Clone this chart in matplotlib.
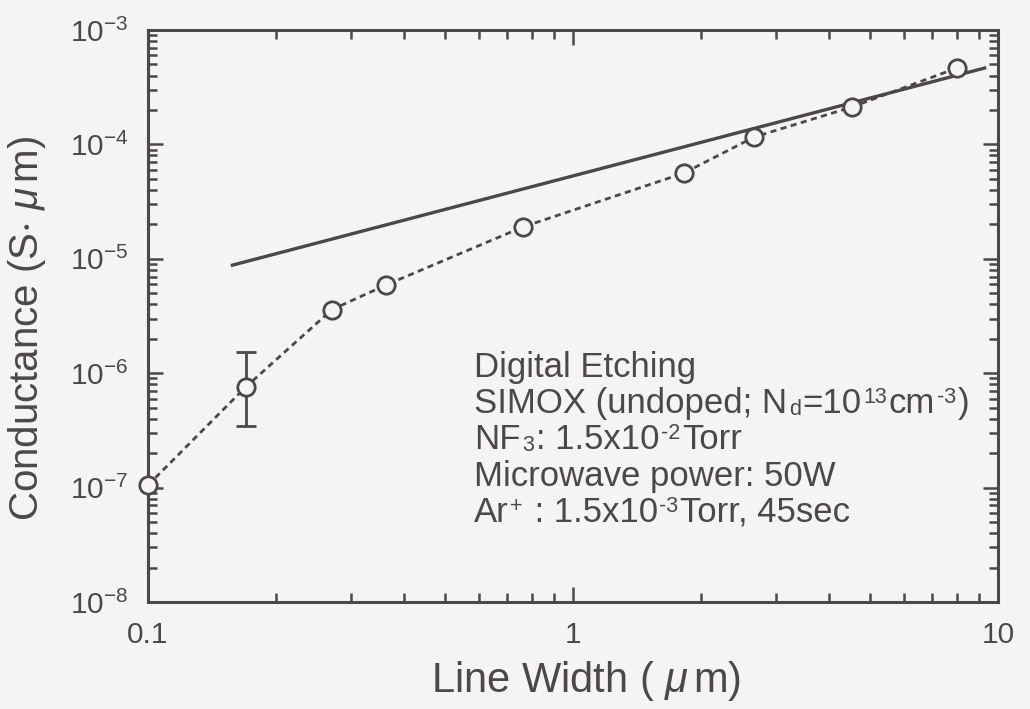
import matplotlib
matplotlib.use("Agg")
import matplotlib.pyplot as plt
from matplotlib.transforms import IdentityTransform

plt.rcParams['font.family'] = ['Liberation Sans', 'DejaVu Sans']
plt.rcParams['mathtext.fontset'] = 'custom'
plt.rcParams['mathtext.rm'] = 'Liberation Sans'
plt.rcParams['mathtext.it'] = 'Liberation Sans:italic'
plt.rcParams['mathtext.default'] = 'regular'

# dane
width = [0.1, 0.17, 0.271, 0.363, 0.763, 1.82, 2.67, 4.53, 8.0]
cond = [1.05e-7, 7.6e-7, 3.6e-6, 5.9e-6, 1.9e-5, 5.6e-5, 1.16e-4, 2.12e-4, 4.65e-4]
err_x = [0.17]
err_y = [7.6e-7]
err_lo = [3.46e-7]
err_hi = [1.53e-6]
fit_x = [0.158, 9.3]
fit_y = [8.8e-6, 4.65e-4]

ink = '#4d4749'
bg = '#f4f4f4'
W, H = 1030, 709

fig = plt.figure(figsize=(10.3, 7.09), dpi=100, facecolor=bg)
ax = fig.add_axes([148 / W, 1 - 602 / H, 850 / W, 572 / H])
ax.set_facecolor(bg)

ax.plot(fit_x, fit_y, '-', color=ink, lw=2.4, zorder=2)
ax.plot(width, cond, color=ink, lw=2.0, ls=(0, (2.2, 1.6)), zorder=2)
ax.errorbar(err_x, err_y,
            yerr=[[err_y[0] - err_lo[0]], [err_hi[0] - err_y[0]]],
            fmt='none', ecolor=ink, elinewidth=2.0, capsize=7, capthick=2.0, zorder=2)
ax.plot(width, cond, 'o', ms=12.5, mfc=bg, mec=ink, mew=2.0, ls='none', zorder=3, clip_on=False)

ax.set_xscale('log')
ax.set_yscale('log')
ax.set_xlim(0.1, 10)
ax.set_ylim(1e-8, 1e-3)

ax.set_xticks([0.1, 1, 10])
ax.set_xticklabels(['0.1', '1', '10'])
ax.set_yticks([1e-8, 1e-7, 1e-6, 1e-5, 1e-4, 1e-3])
ax.set_yticklabels([r'10$^{%d}$' % e for e in range(-8, -2)])

for s in ax.spines.values():
    s.set_color(ink)
    s.set_linewidth(2.2)
ax.tick_params(which='both', direction='in', top=True, right=True, color=ink, width=1.8)
ax.tick_params(which='major', length=11)
ax.tick_params(which='minor', length=6.5)
ax.tick_params(axis='y', which='major', labelsize=21.5, labelcolor=ink, pad=14)
ax.tick_params(axis='x', which='major', labelsize=21.5, labelcolor=ink, pad=14)

fig.text(586 / W, 1 - 681 / H, r'Line Width ( $\mathit{\mu}\,$m)', fontsize=30, color=ink,
         ha='center', va='center')
fig.text(27 / W, 1 - 328 / H, r'Conductance (S$\cdot$ $\mathit{\mu}\,$m)', fontsize=29, color=ink,
         ha='center', va='center', rotation=90)

# opis - tekst z malymi indeksami skladany z kawalkow
fs = 25
fs_small = 15.5
lines = [
    [('Digital Etching', 'n')],
    [('SIMOX (undoped; N', 'n'), ('d', 'sub'), ('=10', 'n'), ('13', 'sup'),
     ('cm', 'n'), ('-3', 'sup'), (')', 'n')],
    [('NF', 'n'), ('3', 'sub'), (': 1.5x10', 'n'), ('-2', 'sup'), ('Torr', 'n')],
    [('Microwave power: 50W', 'n')],
    [('Ar', 'n'), ('+', 'sup'), (' : 1.5x10', 'n'), ('-3', 'sup'), ('Torr, 45sec', 'n')],
]
baselines = [377, 413, 449, 486, 522]
renderer = fig.canvas.get_renderer()
for parts, yb in zip(lines, baselines):
    x = 474
    for s, kind in parts:
        size = fs if kind == 'n' else fs_small
        dy = {'n': 0, 'sup': 10, 'sub': -2}[kind]
        t = fig.text(x, H - yb + dy, s, fontsize=size, color=ink, ha='left', va='baseline',
                     transform=IdentityTransform())
        x += t.get_window_extent(renderer).width + (2 if kind != 'n' else 1.5)

fig.savefig('out.png', dpi=100, facecolor=bg)
